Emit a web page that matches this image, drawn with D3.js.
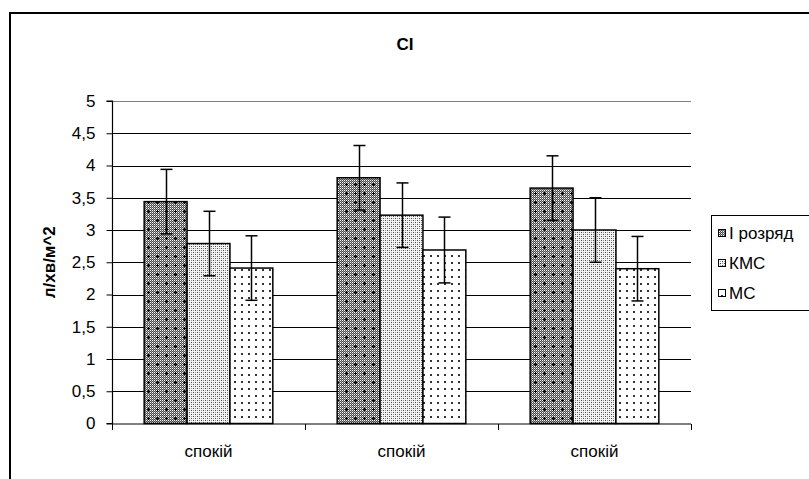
<!DOCTYPE html>
<html><head><meta charset="utf-8">
<script src="https://cdn.jsdelivr.net/npm/d3@7"></script>
<style>
body{margin:0;background:#fff;}
svg{display:block;font-family:"Liberation Sans",Arial,sans-serif;}
</style></head>
<body>
<svg id="c" width="809" height="479"></svg>
<script>
const title = "CI";
const yLabel = "л/хв/м^2";
const categories = ["спокій", "спокій", "спокій"];
const seriesNames = ["I розряд", "КМС", "МС"];
const seriesValues = [
  [3.44, 3.81, 3.65],
  [2.79, 3.23, 3.00],
  [2.41, 2.69, 2.40]
];
const seriesErrors = [
  [0.50, 0.50, 0.50],
  [0.50, 0.50, 0.50],
  [0.50, 0.51, 0.50]
];
const yTicks = [0, 0.5, 1, 1.5, 2, 2.5, 3, 3.5, 4, 4.5, 5];
const yTickLabels = ["0", "0,5", "1", "1,5", "2", "2,5", "3", "3,5", "4", "4,5", "5"];

(function(){
const svg = d3.select("#c");
const defs = svg.append("defs");

const chk = defs.append("pattern").attr("id","chk").attr("patternUnits","userSpaceOnUse")
  .attr("width",2).attr("height",2);
chk.append("rect").attr("width",2).attr("height",2).attr("fill","#4a4a4a");
chk.append("rect").attr("width",1).attr("height",1).attr("fill","#ffffff");
chk.append("rect").attr("x",1).attr("y",1).attr("width",1).attr("height",1).attr("fill","#9a9a9a");
const p1 = defs.append("pattern").attr("id","p1").attr("patternUnits","userSpaceOnUse")
  .attr("width",18).attr("height",18);
p1.append("rect").attr("width",18).attr("height",18).attr("fill","url(#chk)");
[[4,4],[13,13],[13,4],[4,13]].forEach(([cx,cy])=>{
  p1.append("rect").attr("x",cx-1).attr("y",cy).attr("width",3).attr("height",1).attr("fill","#000");
  p1.append("rect").attr("x",cx).attr("y",cy-1).attr("width",1).attr("height",3).attr("fill","#000");
});
const p2 = defs.append("pattern").attr("id","p2").attr("patternUnits","userSpaceOnUse")
  .attr("width",4).attr("height",4);
p2.append("rect").attr("width",4).attr("height",4).attr("fill","#f4f4f4");
p2.append("rect").attr("x",1).attr("y",0).attr("width",1).attr("height",1).attr("fill","#444");
p2.append("rect").attr("x",3).attr("y",2).attr("width",1).attr("height",1).attr("fill","#444");
p2.append("rect").attr("x",1).attr("y",2).attr("width",1).attr("height",1).attr("fill","#999");
p2.append("rect").attr("x",3).attr("y",0).attr("width",1).attr("height",1).attr("fill","#999");
const p3 = defs.append("pattern").attr("id","p3").attr("patternUnits","userSpaceOnUse")
  .attr("width",14).attr("height",14);
p3.append("rect").attr("width",14).attr("height",14).attr("fill","#fff");
p3.append("rect").attr("x",3).attr("y",3).attr("width",2).attr("height",2).attr("fill","#333");
p3.append("rect").attr("x",10).attr("y",10).attr("width",2).attr("height",2).attr("fill","#333");
p3.append("rect").attr("x",10).attr("y",3).attr("width",2).attr("height",2).attr("fill","#333");
p3.append("rect").attr("x",3).attr("y",10).attr("width",2).attr("height",2).attr("fill","#333");
const fills = ["url(#p1)", "url(#p2)", "url(#p3)"];

svg.append("rect").attr("x",10).attr("y",13).attr("width",900).attr("height",600)
  .attr("fill","none").attr("stroke","#000").attr("stroke-width",2);

const pLeft = 112, pRight = 691, pTop = 101, pBottom = 423.5;
const y = d3.scaleLinear().domain([0,5]).range([pBottom, pTop]);
const x0 = d3.scaleBand().domain(d3.range(categories.length)).range([pLeft, pRight]).padding(0);
const x1 = d3.scaleBand().domain(d3.range(seriesNames.length)).range([0, x0.bandwidth()])
  .paddingInner(0).paddingOuter(0.75);

const grid = svg.append("g");
yTicks.forEach(t => {
  if (t === 0) return;
  grid.append("line").attr("x1",pLeft).attr("x2",pRight)
    .attr("y1",Math.round(y(t))+0.5).attr("y2",Math.round(y(t))+0.5)
    .attr("stroke", t === 5 ? "#808080" : "#000").attr("stroke-width",1);
});

const groups = svg.append("g");
categories.forEach((c, ci) => {
  seriesNames.forEach((s, si) => {
    const v = seriesValues[si][ci];
    groups.append("rect")
      .attr("x", x0(ci) + x1(si))
      .attr("y", y(v))
      .attr("width", x1.bandwidth())
      .attr("height", y(0) - y(v))
      .attr("fill", fills[si])
      .attr("stroke", "#000").attr("stroke-width", 1.5);
  });
});
categories.forEach((c, ci) => {
  seriesNames.forEach((s, si) => {
    const v = seriesValues[si][ci], e = seriesErrors[si][ci];
    const cx = Math.round(x0(ci) + x1(si) + x1.bandwidth()/2) + 0.5;
    const g = groups.append("g").attr("stroke","#000").attr("stroke-width",1.5);
    g.append("line").attr("x1",cx).attr("x2",cx).attr("y1",y(v+e)).attr("y2",y(v-e));
    g.append("line").attr("x1",cx-6).attr("x2",cx+6).attr("y1",y(v+e)).attr("y2",y(v+e));
    g.append("line").attr("x1",cx-6).attr("x2",cx+6).attr("y1",y(v-e)).attr("y2",y(v-e));
  });
});

const yAxis = d3.axisLeft(y).tickValues(yTicks).tickSize(6).tickPadding(11)
  .tickFormat((d,i) => yTickLabels[i]);
const ya = svg.append("g").attr("transform",`translate(${pLeft+0.5},0)`).call(yAxis);
ya.select(".domain").attr("stroke","#000").attr("stroke-width",1.2).attr("d",`M-6,${y(5)}H0V${y(0)}H-6`);
ya.selectAll(".tick line").attr("stroke","#000");
ya.selectAll(".tick text").attr("font-size",17).attr("fill","#000")
  .attr("font-family","'Liberation Sans',Arial,sans-serif");

const xa = svg.append("g").attr("transform",`translate(0,${pBottom+0.5})`);
xa.append("line").attr("x1",pLeft).attr("x2",pRight).attr("stroke","#000").attr("stroke-width",1.2);
const boundaries = d3.range(categories.length+1).map(i => i < categories.length ? x0(i) : x0(i-1)+x0.bandwidth());
boundaries.forEach(b => xa.append("line").attr("x1",Math.round(b)+0.5).attr("x2",Math.round(b)+0.5)
  .attr("y1",0).attr("y2",6).attr("stroke","#000"));
categories.forEach((c, ci) => {
  xa.append("text").attr("x", x0(ci)+x0.bandwidth()/2).attr("y", 33)
    .attr("text-anchor","middle").attr("font-size",17).text(c);
});

svg.append("text").attr("x",405).attr("y",50).attr("text-anchor","middle")
  .attr("font-size",17).attr("font-weight","bold").text(title);

svg.append("text").attr("transform",`translate(55,${(pTop+pBottom)/2}) rotate(-90)`)
  .attr("text-anchor","middle").attr("font-size",17).attr("font-weight","bold").text(yLabel);

const lg = svg.append("g").attr("transform","translate(711,215)");
lg.append("rect").attr("x",0.5).attr("y",0.5).attr("width",120).attr("height",95)
  .attr("fill","#fff").attr("stroke","#000").attr("stroke-width",1);
seriesNames.forEach((s, i) => {
  const yy = 18 + i*30;
  lg.append("rect").attr("x",7.5).attr("y",yy-3.5).attr("width",7).attr("height",7)
    .attr("fill",fills[i]).attr("stroke","#000").attr("stroke-width",1);
  lg.append("text").attr("x",18).attr("y",yy+6).attr("font-size",17).text(s);
});
})();
</script>
</body></html>
